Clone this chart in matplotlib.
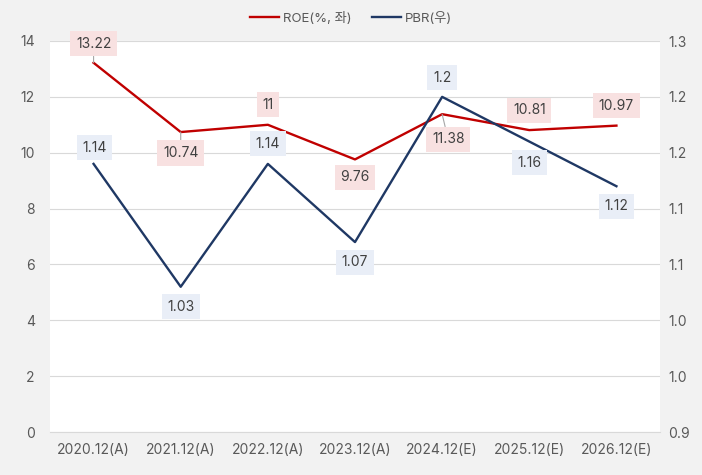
import matplotlib.pyplot as plt
import numpy as np

plt.rcParams['font.family'] = ['Inter', 'Noto Sans CJK KR', 'DejaVu Sans']

# data
periods = ['2020.12(A)', '2021.12(A)', '2022.12(A)', '2023.12(A)',
           '2024.12(E)', '2025.12(E)', '2026.12(E)']
roe = [13.22, 10.74, 11.0, 9.76, 11.38, 10.81, 10.97]
pbr = [1.14, 1.03, 1.14, 1.07, 1.2, 1.16, 1.12]
roe_labels = ['13.22', '10.74', '11', '9.76', '11.38', '10.81', '10.97']
pbr_labels = ['1.14', '1.03', '1.14', '1.07', '1.2', '1.16', '1.12']
right_ticks = [0.9, 0.95, 1.0, 1.05, 1.1, 1.15, 1.2, 1.25]
right_tick_labels = ['0.9', '1.0', '1.0', '1.1', '1.1', '1.2', '1.2', '1.3']

# label offsets in pixels (dx, dy), leader line or not
roe_off = [(0, 19), (0, -21), (0, 20), (0, -18), (6, -25), (0, 20), (0, 20)]
roe_leader = [True, True, False, False, True, False, False]
pbr_off = [(1, 16), (0, -20), (0, 20), (0, -20), (0, 19), (0, -21), (0, -20)]

red = '#c00000'
navy = '#1f3864'
txt = '#404040'

fig = plt.figure(figsize=(7.02, 4.75), dpi=100, facecolor='#f2f2f2')
ax = fig.add_axes([50/702, 43/475, 610/702, 391/475])
ax.set_facecolor('white')
ax2 = ax.twinx()

x = np.arange(len(periods))
l1, = ax.plot(x, roe, color=red, lw=1.7, label='ROE(%, 좌)', zorder=3)
l2, = ax2.plot(x, pbr, color=navy, lw=1.7, label='PBR(우)', zorder=3)

ax.set_xlim(-0.5, len(periods) - 0.5)
ax.set_ylim(0, 14)
ax.set_yticks(range(0, 15, 2))
ax2.set_ylim(0.9, 1.25)
ax2.set_yticks(right_ticks)
ax2.set_yticklabels(right_tick_labels)
ax.set_xticks(x)
ax.set_xticklabels(periods)

ax.grid(axis='y', color='#d9d9d9', lw=0.8)
ax.set_axisbelow(True)
for a in (ax, ax2):
    for s in a.spines.values():
        s.set_visible(False)
    a.tick_params(length=0, labelsize=10, labelcolor='#595959')
ax.spines['bottom'].set_visible(True)
ax.spines['bottom'].set_color('#d9d9d9')
ax.tick_params(axis='x', pad=8)
ax.tick_params(axis='y', pad=11)
ax2.tick_params(axis='y', pad=6)

for i in range(len(x)):
    arrow = dict(arrowstyle='-', color='#a6a6a6', lw=0.8, shrinkA=0, shrinkB=0) \
        if roe_leader[i] else None
    ax.annotate(roe_labels[i], (x[i], roe[i]), xytext=roe_off[i],
                textcoords='offset pixels', ha='center', va='center',
                fontsize=10, color=txt, zorder=5, arrowprops=arrow,
                bbox=dict(boxstyle='square,pad=0.4', fc='#f8e1e1', ec='none'))
    ax2.annotate(pbr_labels[i], (x[i], pbr[i]), xytext=pbr_off[i],
                 textcoords='offset pixels', ha='center', va='center',
                 fontsize=10, color=txt, zorder=5,
                 bbox=dict(boxstyle='square,pad=0.4', fc='#e9eef7', ec='none'))

fig.legend(handles=[l1, l2], loc='center', bbox_to_anchor=(0.5, 1 - 18/475),
           ncol=2, frameon=False, fontsize=9.5, handlelength=2.2,
           handletextpad=0.3, columnspacing=1.5, labelcolor='#595959')

fig.savefig('out.png', dpi=100, facecolor=fig.get_facecolor())
